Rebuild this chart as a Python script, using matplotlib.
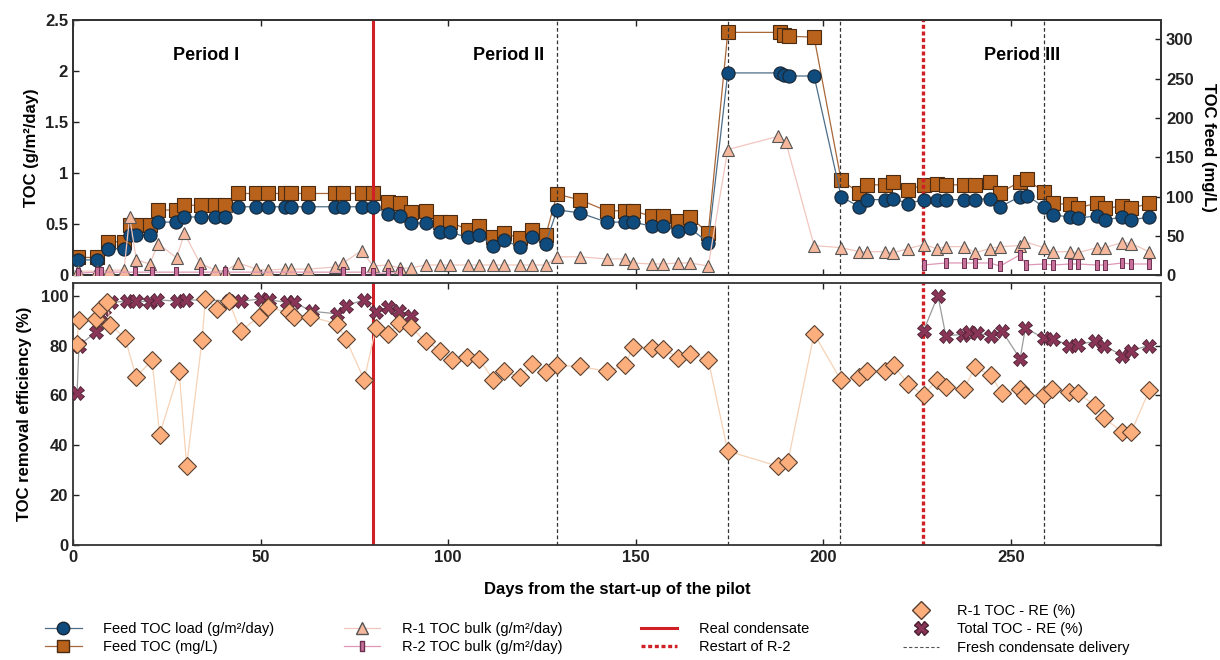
import matplotlib
matplotlib.use('Agg')
import matplotlib.pyplot as plt
import numpy as np
from matplotlib.lines import Line2D

plt.rcParams['font.family'] = ['Liberation Sans', 'DejaVu Sans']
plt.rcParams['font.weight'] = 'bold'

# ---------- data ----------
feed_days = [1.3, 6.4, 9.3, 13.6, 15.1, 16.9, 20.5, 22.7, 27.5, 29.7, 34.2, 37.8, 40.6, 44, 48.9,
             52, 56.4, 58.2, 62.7, 69.8, 72, 76.9, 80, 84, 87.1, 90, 94, 97.8, 100.6, 105.2, 108.2,
             112, 114.8, 119.1, 122.2, 126, 129, 135.1, 142.2, 147.1, 149.3, 154.2, 157.3, 161.3,
             164.4, 169.3, 174.5, 188.4, 189.6, 190.7, 197.5, 204.7, 209.5, 211.7, 216.4, 218.6,
             222.5, 226.7, 230.2, 232.6, 237.5, 240.4, 244.3, 247.1, 252.4, 254.2, 258.7, 261.1,
             265.8, 267.8, 272.9, 275, 279.6, 282, 286.8]
feed_load = [0.15, 0.15, 0.26, 0.26, 0.39, 0.39, 0.39, 0.52, 0.52, 0.57, 0.57, 0.57, 0.57,
             0.67, 0.67, 0.67, 0.67, 0.67, 0.67, 0.67, 0.67, 0.67, 0.67,
             0.60, 0.58, 0.51, 0.51, 0.42, 0.42, 0.37, 0.39, 0.29, 0.34, 0.28, 0.37, 0.31,
             0.64, 0.61, 0.52, 0.52, 0.52, 0.48, 0.48, 0.43, 0.46, 0.32,
             1.98, 1.98, 1.96, 1.95, 1.95,
             0.77, 0.67, 0.74, 0.74, 0.75, 0.70, 0.74, 0.74, 0.74, 0.74, 0.74, 0.75, 0.67,
             0.77, 0.78, 0.67, 0.59, 0.57, 0.56, 0.58, 0.54, 0.57, 0.54, 0.57]
feed_toc = [22.6, 22.6, 42.6, 42.6, 64, 64, 64, 83, 83, 89, 89, 89, 89,
            104, 104, 104, 104, 104, 104, 104, 104, 104, 104,
            93, 91.5, 81, 82, 68, 68, 57.5, 62, 49, 54, 47, 58, 51,
            103, 96, 82, 82, 82, 75, 75, 69, 74, 54,
            309, 309, 306, 304, 303,
            121, 105, 115, 115, 118, 108.6, 115, 116, 115, 115, 115, 119, 105,
            119, 122, 106, 91.5, 90, 86, 91.5, 85, 88, 85, 91.5]

r1_days = [1.3, 6.4, 9.6, 13.6, 15.1, 16.9, 20.5, 22.7, 27.6, 29.7, 33.8, 37.8, 40.6, 44, 48.9,
           52, 56.4, 58.2, 62.7, 69.8, 72, 76.9, 80, 84, 87.1, 90, 94, 97.8, 100.6, 105.2, 108.2,
           112, 114.8, 119.1, 122.2, 126, 129, 135.1, 142.2, 147.1, 149.3, 154.2, 157.3, 161.3,
           164.4, 169.3, 174.5, 188, 190, 197.5, 204.7, 209.5, 211.7, 216.4, 218.6, 222.5, 226.7,
           230.2, 232.6, 237.5, 240.4, 244.3, 247.1, 252.4, 253.5, 258.7, 261.1, 265.8, 267.8,
           272.9, 275, 279.6, 282, 286.8]
r1_bulk = [0.04, 0.04, 0.05, 0.05, 0.57, 0.15, 0.11, 0.31, 0.17, 0.41, 0.12, 0.05, 0.04, 0.12,
           0.06, 0.05, 0.06, 0.06, 0.06, 0.08, 0.12, 0.24, 0.09, 0.10, 0.07, 0.07, 0.10, 0.10,
           0.10, 0.10, 0.10, 0.10, 0.10, 0.10, 0.10, 0.10, 0.18, 0.18, 0.16, 0.16, 0.12, 0.11,
           0.11, 0.12, 0.12, 0.09, 1.23, 1.36, 1.30, 0.29, 0.27, 0.23, 0.23, 0.23, 0.22, 0.26,
           0.30, 0.26, 0.28, 0.28, 0.22, 0.26, 0.28, 0.29, 0.33, 0.27, 0.23, 0.23, 0.22, 0.27,
           0.27, 0.32, 0.31, 0.23]

r2_days_a = [1.3, 6.4, 7.5, 16.5, 21, 27.5, 34.2, 40.6, 72, 77.3, 80, 84, 87.1]
r2_bulk_a = [0.02, 0.03, 0.03, 0.03, 0.03, 0.03, 0.03, 0.03, 0.03, 0.03, 0.02, 0.02, 0.03]
r2_days_b = [226.7, 232.6, 237.5, 240.4, 244.3, 247.1, 252.4, 254, 258.7, 261.1, 265.8, 267.8,
             272.9, 275, 279.6, 282, 286.8]
r2_bulk_b = [0.10, 0.12, 0.12, 0.12, 0.12, 0.09, 0.20, 0.10, 0.11, 0.10, 0.11, 0.11, 0.10, 0.10,
             0.12, 0.11, 0.11]

re1_days = [1.0, 1.6, 6.2, 7.1, 9.1, 10.0, 13.9, 16.8, 21.1, 23.1, 28.3, 30.3, 34.4, 35.3, 38.4,
            41.5, 44.7, 49.6, 51.9, 57.5, 58.8, 63.1, 70.4, 72.7, 77.6, 80.7, 84, 86.8, 90, 94,
            97.8, 101, 104.9, 108.2, 112, 114.9, 119.1, 122.2, 126, 129, 135.1, 142.2, 147.1,
            149.3, 154.2, 157.3, 161.3, 164.4, 169.3, 174.5, 188, 190.5, 197.5, 204.7, 209.5,
            211.7, 216.3, 218.7, 222.5, 226.7, 230.2, 232.6, 237.5, 240.4, 244.7, 247.5, 252.4,
            253.8, 258.7, 260.9, 265.5, 267.8, 272.4, 274.7, 279.6, 282, 286.8]
re1_vals = [80.5, 90.2, 90.5, 94.5, 97.5, 88.2, 83, 67.5, 74, 44.3, 69.7, 31.8, 82.2, 98.8, 94.5,
            97.8, 85.8, 91.6, 95.4, 93.3, 91.6, 91.6, 88.7, 82.7, 66.3, 86.9, 84.5, 88.9, 87.3,
            81.7, 78, 74.3, 75.6, 74.7, 66.3, 69.7, 67.3, 72.4, 69.3, 72, 71.6, 69.7, 72, 79.6,
            79.1, 78.7, 75.1, 76.7, 74.3, 37.7, 31.6, 33.3, 84.7, 66, 67.3, 69.7, 69.7, 72, 64.7,
            60, 66.3, 63.3, 62.7, 71.3, 68, 60.9, 62.7, 60, 60, 62.7, 61.3, 60.9, 56, 51.1, 45.3,
            45.3, 62]

tot_days_a = [1.1, 1.6, 6.2, 7.2, 8.4, 10.1, 14.5, 16.8, 20.5, 22.5, 27.8, 30.2, 41.5, 44.7, 50,
              52.2, 57.1, 58.8, 63.8, 70.4, 72.7, 77.6, 80.7, 84, 87, 90.2]
tot_vals_a = [61, 80, 85.5, 90, 94.7, 97.3, 97.8, 97.8, 97.5, 98.3, 97.8, 98.3, 98, 97.7, 98.7,
              98.3, 97.3, 97.3, 93.7, 92.7, 96, 98.3, 93.3, 95.5, 94, 92]
tot_days_b = [226.7, 230.5, 232.6, 237.3, 238.7, 240.9, 244.7, 247.5, 252.4, 253.8, 258.7, 261.1,
              265.5, 267.8, 272.4, 274.7, 279.6, 282, 286.8]
tot_vals_b = [86, 100, 84, 84.4, 85.3, 84.9, 84, 86, 74.7, 87, 83, 82.7, 80, 80.4, 81.7, 80, 76,
              78, 80]

real_condensate = 80
restart_r2 = 226.4
fresh_deliveries = [129, 174.5, 204.5, 258.7]

# ---------- styles ----------
c_load, c_feed, c_r1, c_r2, c_re1, c_tot = '#0f4b7c', '#b8621b', '#f5b89c', '#c8709a', '#fcae7c', '#8a3558'
r2_marker = [(-0.4, -1), (0.4, -1), (0.4, 1), (-0.4, 1), (-0.4, -1)]

fig = plt.figure(figsize=(12.2, 6.6), dpi=100)
ax1 = fig.add_axes([0.0598, 0.583, 0.892, 0.387])
ax2 = fig.add_axes([0.0598, 0.174, 0.892, 0.397])
ax1r = ax1.twinx()

for ax in (ax1, ax2):
    ax.axvline(real_condensate, color='#d01f25', lw=2.2, zorder=1)
    ax.axvline(restart_r2, color='#d01f25', lw=2.4, ls=(0, (1.2, 0.8)), zorder=1)
    for d in fresh_deliveries:
        ax.axvline(d, color='#333333', lw=0.9, ls=(0, (3, 2)), zorder=1)

# top panel
ax1r.plot(feed_days, feed_toc, color='#a8683a', lw=0.9, marker='s', ms=9.5, mfc=c_feed,
          mec='#4a2a10', mew=0.8, zorder=3)
ax1.plot(feed_days, feed_load, color='#4d6d88', lw=0.9, marker='o', ms=9.5, mfc=c_load,
         mec='#1a2633', mew=0.8, zorder=4)
ax1.plot(r1_days, r1_bulk, color='#f0c6be', lw=0.9, marker='^', ms=9, mfc=c_r1,
         mec='#555555', mew=0.8, zorder=5)
for dd, vv in ((r2_days_a, r2_bulk_a), (r2_days_b, r2_bulk_b)):
    ax1.plot(dd, vv, color='#dd98b6', lw=0.9, marker=r2_marker, ms=7, mfc=c_r2,
             mec='#6a3050', mew=0.7, zorder=5)
ax1.set_zorder(ax1r.get_zorder() + 1)
ax1.patch.set_visible(False)

ax1.set_xlim(0, 290)
ax1.set_ylim(0, 2.5)
ax1r.set_ylim(0, 325)
ax1.set_yticks([0, 0.5, 1, 1.5, 2, 2.5])
ax1.set_yticklabels(['0', '0.5', '1', '1.5', '2', '2.5'])
ax1r.set_yticks([0, 50, 100, 150, 200, 250, 300])
ax1.set_xticks([0, 50, 100, 150, 200, 250])
ax1.tick_params(axis='x', labelbottom=False)
ax1.set_ylabel('TOC (g/m²/day)', fontsize=12, fontweight='bold', labelpad=4)
ax1r.set_ylabel('TOC feed (mg/L)', fontsize=12, fontweight='bold', rotation=270, labelpad=16)

ax1.text(35.5, 2.15, 'Period I', fontsize=13, fontweight='bold', ha='center', va='center')
ax1.text(116, 2.15, 'Period II', fontsize=13, fontweight='bold', ha='center', va='center')
ax1.text(253, 2.15, 'Period III', fontsize=13, fontweight='bold', ha='center', va='center')

# bottom panel
ax2.plot(re1_days, re1_vals, color='#f6d2b6', lw=0.9, marker='D', ms=9, mfc=c_re1,
         mec='#5a4030', mew=0.8, zorder=4)
for dd, vv in ((tot_days_a, tot_vals_a), (tot_days_b, tot_vals_b)):
    ax2.plot(dd, vv, color='#9a9a9a', lw=0.9, marker='X', ms=10, mfc=c_tot,
             mec='#4a2030', mew=0.6, zorder=3)
ax2.set_xlim(0, 290)
ax2.set_ylim(0, 105)
ax2.set_yticks([0, 20, 40, 60, 80, 100])
ax2.set_xticks([0, 50, 100, 150, 200, 250])
ax2.set_xlabel('Days from the start-up of the pilot', fontsize=12, fontweight='bold', labelpad=12)
ax2.set_ylabel('TOC removal efficiency (%)', fontsize=12, fontweight='bold', labelpad=6)

for ax in (ax1, ax2, ax1r):
    for s in ax.spines.values():
        s.set_color('#333333')
        s.set_linewidth(1.3)
for ax in (ax1, ax2):
    ax.tick_params(direction='in', top=True, right=(ax is ax2), length=4, width=1,
                   labelsize=12, colors='#222222')
ax1r.tick_params(direction='in', length=4, width=1, labelsize=12, colors='#222222')
for ax in (ax1, ax2, ax1r):
    for lab in ax.get_xticklabels() + ax.get_yticklabels():
        lab.set_fontweight('bold')

# legends, one per column
leg_font = {'family': ['Liberation Sans Narrow', 'Liberation Sans'], 'size': 10.5, 'weight': 'normal'}
leg_kw = dict(loc='upper left', frameon=False, prop=leg_font, handlelength=2.5,
              handletextpad=1.5, labelspacing=0.3, borderaxespad=0, borderpad=0)
h_load = Line2D([], [], color='#4d6d88', lw=0.9, marker='o', ms=9, mfc=c_load, mec='#1a2633')
h_feed = Line2D([], [], color='#a8683a', lw=0.9, marker='s', ms=9, mfc=c_feed, mec='#4a2a10')
h_r1 = Line2D([], [], color='#f0c6be', lw=0.9, marker='^', ms=9, mfc=c_r1, mec='#555555')
h_r2 = Line2D([], [], color='#dd98b6', lw=0.9, marker=r2_marker, ms=7, mfc=c_r2, mec='#6a3050')
h_real = Line2D([], [], color='#d01f25', lw=2.2)
h_restart = Line2D([], [], color='#d01f25', lw=2.4, ls=(0, (1.2, 0.8)))
h_re1 = Line2D([], [], color='none', marker='D', ms=9, mfc=c_re1, mec='#5a4030')
h_tot = Line2D([], [], color='none', marker='X', ms=10, mfc=c_tot, mec='#4a2030')
h_fresh = Line2D([], [], color='#555555', lw=0.8, ls=(0, (3, 2)))

fig.legend([h_load, h_feed], ['Feed TOC load (g/m²/day)', 'Feed TOC (mg/L)'],
           bbox_to_anchor=(0.037, 0.058), **leg_kw)
fig.legend([h_r1, h_r2], ['R-1 TOC bulk (g/m²/day)', 'R-2 TOC bulk (g/m²/day)'],
           bbox_to_anchor=(0.282, 0.058), **leg_kw)
fig.legend([h_real, h_restart], ['Real condensate', 'Restart of R-2'],
           bbox_to_anchor=(0.525, 0.058), **leg_kw)
kw4 = dict(leg_kw, handletextpad=1.2)
fig.legend([h_re1, h_tot, h_fresh], ['R-1 TOC - RE (%)', 'Total TOC - RE (%)', 'Fresh condensate delivery'],
           bbox_to_anchor=(0.740, 0.085), **kw4)

fig.savefig('out.png', dpi=100)
